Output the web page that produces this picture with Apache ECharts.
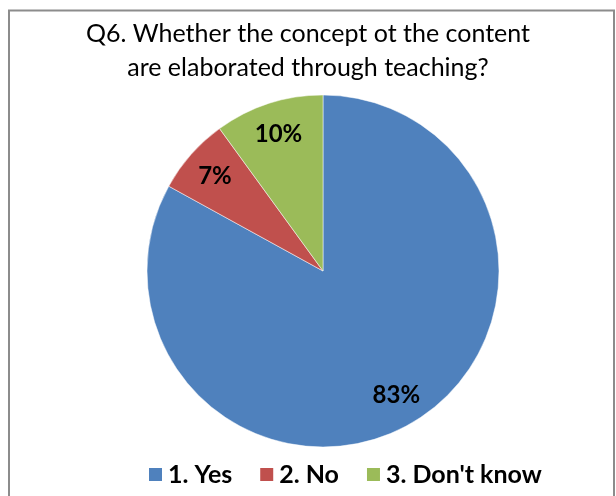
<!DOCTYPE html>
<html>
<head>
<meta charset="utf-8">
<script src="https://cdn.jsdelivr.net/npm/echarts@6/dist/echarts.min.js"></script>
<style>
  html, body { margin: 0; padding: 0; background: #fff; }
  #chart { width: 616px; height: 496px; }
</style>
</head>
<body>
<div id="chart"></div>
<script>
  var categories = ['1. Yes', '2. No', "3. Don't know"];
  var values = [83, 7, 10];
  var colors = ['#4F81BD', '#C0504D', '#9BBB59'];
  var titleText = 'Q6. Whether the concept ot the content\nare elaborated through teaching?';

  var pieData = categories.map(function (name, i) {
    return { name: name, value: values[i], itemStyle: { color: colors[i] } };
  });

  var chart = echarts.init(document.getElementById('chart'));
  var fontFam = 'Lato, "Open Sans", sans-serif';

  var option = {
    backgroundColor: '#ffffff',
    animation: false,
    graphic: [{
      type: 'rect',
      shape: { x: 9, y: 10.5, width: 605, height: 500 },
      style: { fill: 'none', stroke: '#8c8c8c', lineWidth: 2 },
      silent: true
    }],
    title: {
      text: titleText,
      left: 'center',
      top: 12,
      textStyle: {
        fontFamily: fontFam,
        fontWeight: 'normal',
        fontSize: 25,
        lineHeight: 34,
        color: '#000'
      }
    },
    legend: {
      bottom: 4,
      left: 142,
      itemWidth: 15,
      itemHeight: 15,
      itemGap: 26,
      icon: 'rect',
      data: categories,
      textStyle: {
        fontFamily: fontFam,
        fontWeight: 'bold',
        fontSize: 25,
        color: '#000'
      }
    },
    series: [
      {
        type: 'pie',
        center: [323, 271],
        radius: 176,
        startAngle: 90,
        clockwise: true,
        silent: true,
        itemStyle: { borderColor: '#ffffff', borderWidth: 0.5 },
        label: { show: false },
        labelLine: { show: false },
        data: pieData
      },
      {
        // transparent ring only used to place the percentage labels
        type: 'pie',
        center: [323, 271],
        radius: [106, 176],
        startAngle: 90,
        clockwise: true,
        silent: true,
        itemStyle: { color: 'rgba(0,0,0,0)' },
        labelLine: { show: false },
        label: {
          show: true,
          position: 'inside',
          formatter: '{c}%',
          fontFamily: fontFam,
          fontWeight: 'bold',
          fontSize: 24,
          color: '#000'
        },
        data: categories.map(function (name, i) {
          return { name: name, value: values[i] };
        })
      }
    ]
  };
  chart.setOption(option);
</script>
</body>
</html>
